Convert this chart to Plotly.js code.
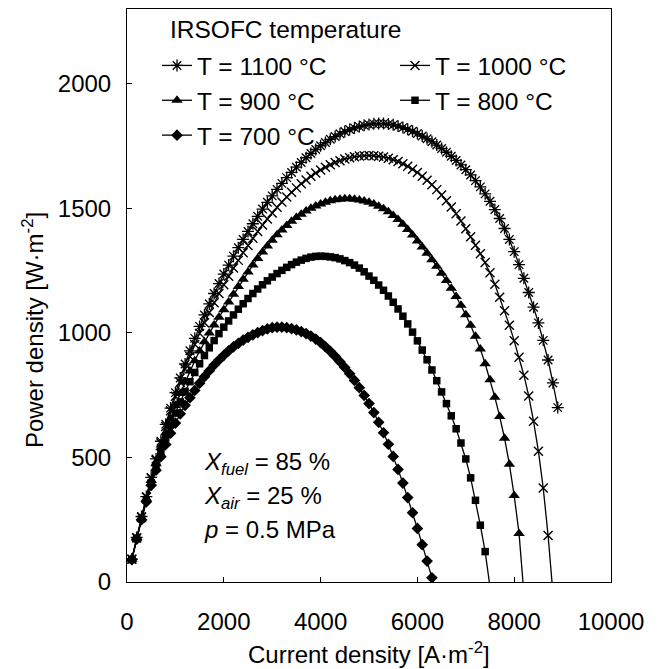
<!DOCTYPE html>
<html>
<head>
<meta charset="utf-8">
<script src="https://cdn.plot.ly/plotly-3.0.1.min.js"></script>
<style>html,body{margin:0;padding:0;background:#fff;}#chart{width:659px;height:669px;}</style>
</head>
<body>
<div id="chart"></div>
<script>
// Current density grid [A/m2]
const current = [100,200,300,400,500,600,700,800,900,1000,1100,1200,1300,1400,1500,1600,1700,1800,1900,2000,
2100,2200,2300,2400,2500,2600,2700,2800,2900,3000,3100,3200,3300,3400,3500,3600,3700,3800,3900,4000,
4100,4200,4300,4400,4500,4600,4700,4800,4900,5000,5100,5200,5300,5400,5500,5600,5700,5800,5900,6000,
6100,6200,6300,6400,6500,6600,6700,6800,6900,7000,7100,7200,7300,7400,7500,7600,7700,7800,7900,8000,
8100,8200,8300,8400,8500,8600,8700,8800,8900];

// Power density [W/m2] per temperature
const p1100 = [92,179,263,343,420,494,565,633,698,760,819,875,928,978,1026,1072,1116,1158,1198,1236,
1272,1308,1342,1375,1407,1438,1468,1497,1524,1550,1576,1600,1623,1644,1665,1684,1703,1720,1736,1751,
1764,1777,1788,1799,1808,1816,1823,1828,1833,1836,1839,1840,1840,1838,1835,1830,1824,1817,1809,1800,
1790,1779,1767,1754,1740,1725,1709,1692,1674,1655,1634,1611,1586,1558,1528,1495,1459,1419,1375,1326,
1274,1219,1162,1103,1040,970,891,799,700];
const p1000 = [91,177,260,340,416,489,558,624,687,746,802,855,905,953,998,1041,1082,1121,1158,1193,
1227,1260,1291,1322,1351,1380,1407,1433,1457,1481,1504,1525,1545,1564,1582,1599,1614,1629,1642,1654,
1665,1675,1684,1691,1698,1703,1707,1710,1711,1712,1711,1709,1706,1701,1695,1688,1679,1669,1657,1644,
1629,1613,1595,1575,1553,1530,1505,1478,1449,1418,1386,1352,1318,1282,1241,1195,1143,1089,1031,968,
902,830,747,645,525,377,187,-45];
const p900 = [91,176,257,334,407,475,539,599,655,708,757,803,847,888,927,964,999,1032,1063,1093,
1124,1155,1186,1215,1244,1272,1299,1325,1349,1372,1394,1413,1431,1448,1463,1476,1489,1500,1509,1517,
1524,1530,1534,1536,1538,1538,1536,1533,1529,1524,1517,1508,1498,1486,1471,1455,1436,1415,1393,1369,
1345,1320,1294,1267,1239,1210,1179,1146,1111,1073,1031,986,935,876,812,742,664,577,473,347,
195,-45];
const p800 = [90,174,253,328,398,462,522,578,630,678,723,765,804,841,876,909,940,969,997,1023,
1048,1072,1095,1117,1138,1158,1176,1193,1209,1224,1238,1251,1263,1274,1284,1292,1299,1304,1307,1308,
1307,1305,1302,1297,1290,1282,1272,1260,1245,1228,1211,1192,1171,1148,1123,1096,1067,1036,1003,968,
931,892,851,808,763,716,667,615,558,494,418,328,228,122,-20];
const p700 = [90,172,250,322,388,449,503,552,597,638,675,709,740,769,798,824,848,871,891,910,
928,944,958,971,982,992,1001,1009,1016,1021,1023,1023,1021,1017,1012,1005,997,987,975,961,
944,926,906,884,861,836,809,780,749,716,680,641,599,553,504,452,397,339,278,215,
150,84,17,-50];

const seriesNames = ['T = 1100 °C','T = 1000 °C','T = 900 °C','T = 800 °C','T = 700 °C'];
const seriesValues = [p1100, p1000, p900, p800, p700];
const xTicks = [0,2000,4000,6000,8000,10000];
const yTicks = [0,500,1000,1500,2000];

const markerStyles = [
  {symbol:'asterisk-open', size:10, color:'#000', line:{width:1.3, color:'#000'}},
  {symbol:'x-thin-open', size:9, color:'#000', line:{width:1.4, color:'#000'}},
  {symbol:'triangle-up', size:10, color:'#000', line:{width:0}},
  {symbol:'square', size:7.5, color:'#000', line:{width:0}},
  {symbol:'diamond', size:9, color:'#000', line:{width:0}}
];

const FONT = 'Liberation Sans, Arial, Helvetica, sans-serif';

const traces = seriesValues.map((vals, i) => ({
  type:'scatter', mode:'lines+markers',
  name: seriesNames[i],
  x: current.slice(0, vals.length),
  y: vals,
  line:{color:'#000', width:1.3},
  marker: markerStyles[i],
  cliponaxis:true,
  hoverinfo:'x+y'
}));

const layout = {
  width:659, height:669,
  margin:{l:127, r:48, t:9, b:87},
  paper_bgcolor:'#fff', plot_bgcolor:'#fff',
  font:{family:FONT, size:24, color:'#000'},
  showlegend:true,
  legend:{
    orientation:'h', x:0.062, xanchor:'left', y:(582-43)/573, yanchor:'top',
    entrywidth:193, entrywidthmode:'pixels', itemwidth:30,
    font:{family:FONT, size:24.5, color:'#000'},
    bgcolor:'rgba(0,0,0,0)', borderwidth:0, traceorder:'normal'
  },
  xaxis:{
    range:[0,10000], tickvals:xTicks, ticktext:xTicks.map(String),
    ticks:'inside', ticklen:5, tickcolor:'#000', tickwidth:1,
    showline:true, linecolor:'#000', linewidth:1, mirror:true,
    showgrid:false, zeroline:false,
    tickfont:{family:FONT, size:24, color:'#000'},
    ticklabelstandoff:18, fixedrange:true
  },
  yaxis:{
    range:[0,2300], tickvals:yTicks, ticktext:yTicks.map(String),
    ticks:'inside', ticklen:5, tickcolor:'#000', tickwidth:1,
    showline:true, linecolor:'#000', linewidth:1, mirror:true,
    showgrid:false, zeroline:false,
    tickfont:{family:FONT, size:24, color:'#000'},
    ticklabelstandoff:10, fixedrange:true
  },
  annotations:[
    {xref:'paper', yref:'paper', x:(168-127)/484, y:(582-30)/573, xanchor:'left', yanchor:'middle',
     text:'IRSOFC temperature', showarrow:false, font:{family:FONT, size:24.5, color:'#000'}},
    {xref:'paper', yref:'paper', x:0.5, y:(582-653)/573, xanchor:'center', yanchor:'middle',
     text:'Current density [A·m<sup>-2</sup>]', showarrow:false, font:{family:FONT, size:24, color:'#000'}},
    {xref:'paper', yref:'paper', x:-0.194, y:(582-330)/573, xanchor:'center', yanchor:'middle', textangle:-90,
     text:'Power density [W·m<sup>-2</sup>]', showarrow:false, font:{family:FONT, size:24, color:'#000'}},
    {xref:'paper', yref:'paper', x:0.155, y:(582-463)/573, xanchor:'left', yanchor:'middle',
     text:'<i>X</i><sub><i>fuel</i></sub> = 85 %', showarrow:false, font:{family:FONT, size:24, color:'#000'}},
    {xref:'paper', yref:'paper', x:0.155, y:(582-497)/573, xanchor:'left', yanchor:'middle',
     text:'<i>X</i><sub><i>air</i></sub> = 25 %', showarrow:false, font:{family:FONT, size:24, color:'#000'}},
    {xref:'paper', yref:'paper', x:0.155, y:(582-529)/573, xanchor:'left', yanchor:'middle',
     text:'<i>p</i> = 0.5 MPa', showarrow:false, font:{family:FONT, size:24, color:'#000'}}
  ]
};

Plotly.newPlot('chart', traces, layout, {displayModeBar:false, staticPlot:true});
</script>
</body>
</html>
